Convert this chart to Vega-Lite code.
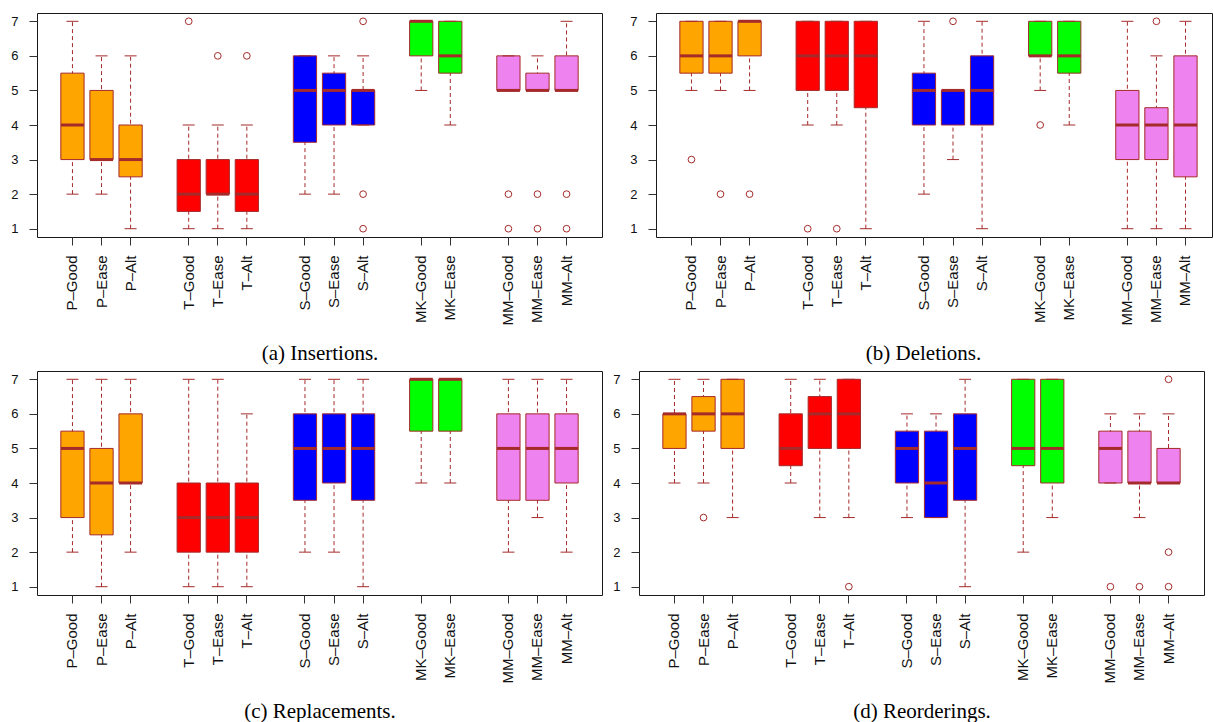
{
  "$schema": "https://vega.github.io/schema/vega-lite/v6.json",
  "padding": {"left": 10, "top": 12, "right": 2, "bottom": 0},
  "background": "white",
  "spacing": 6,
  "datasets": {
    "boxes": [
      {"panel": "a", "group": "P", "label": "P–Good", "lower": 2, "q1": 3, "median": 4, "q3": 5.5, "upper": 7},
      {"panel": "a", "group": "P", "label": "P–Ease", "lower": 2, "q1": 3, "median": 3, "q3": 5, "upper": 6},
      {"panel": "a", "group": "P", "label": "P–Alt", "lower": 1, "q1": 2.5, "median": 3, "q3": 4, "upper": 6},
      {"panel": "a", "group": "T", "label": "T–Good", "lower": 1, "q1": 1.5, "median": 2, "q3": 3, "upper": 4},
      {"panel": "a", "group": "T", "label": "T–Ease", "lower": 1, "q1": 2, "median": 2, "q3": 3, "upper": 4},
      {"panel": "a", "group": "T", "label": "T–Alt", "lower": 1, "q1": 1.5, "median": 2, "q3": 3, "upper": 4},
      {"panel": "a", "group": "S", "label": "S–Good", "lower": 2, "q1": 3.5, "median": 5, "q3": 6, "upper": 6},
      {"panel": "a", "group": "S", "label": "S–Ease", "lower": 2, "q1": 4, "median": 5, "q3": 5.5, "upper": 6},
      {"panel": "a", "group": "S", "label": "S–Alt", "lower": 4, "q1": 4, "median": 5, "q3": 5, "upper": 6},
      {"panel": "a", "group": "MK", "label": "MK–Good", "lower": 5, "q1": 6, "median": 7, "q3": 7, "upper": 7},
      {"panel": "a", "group": "MK", "label": "MK–Ease", "lower": 4, "q1": 5.5, "median": 6, "q3": 7, "upper": 7},
      {"panel": "a", "group": "MM", "label": "MM–Good", "lower": 5, "q1": 5, "median": 5, "q3": 6, "upper": 6},
      {"panel": "a", "group": "MM", "label": "MM–Ease", "lower": 5, "q1": 5, "median": 5, "q3": 5.5, "upper": 6},
      {"panel": "a", "group": "MM", "label": "MM–Alt", "lower": 5, "q1": 5, "median": 5, "q3": 6, "upper": 7},

      {"panel": "b", "group": "P", "label": "P–Good", "lower": 5, "q1": 5.5, "median": 6, "q3": 7, "upper": 7},
      {"panel": "b", "group": "P", "label": "P–Ease", "lower": 5, "q1": 5.5, "median": 6, "q3": 7, "upper": 7},
      {"panel": "b", "group": "P", "label": "P–Alt", "lower": 5, "q1": 6, "median": 7, "q3": 7, "upper": 7},
      {"panel": "b", "group": "T", "label": "T–Good", "lower": 4, "q1": 5, "median": 6, "q3": 7, "upper": 7},
      {"panel": "b", "group": "T", "label": "T–Ease", "lower": 4, "q1": 5, "median": 6, "q3": 7, "upper": 7},
      {"panel": "b", "group": "T", "label": "T–Alt", "lower": 1, "q1": 4.5, "median": 6, "q3": 7, "upper": 7},
      {"panel": "b", "group": "S", "label": "S–Good", "lower": 2, "q1": 4, "median": 5, "q3": 5.5, "upper": 7},
      {"panel": "b", "group": "S", "label": "S–Ease", "lower": 3, "q1": 4, "median": 5, "q3": 5, "upper": 5},
      {"panel": "b", "group": "S", "label": "S–Alt", "lower": 1, "q1": 4, "median": 5, "q3": 6, "upper": 7},
      {"panel": "b", "group": "MK", "label": "MK–Good", "lower": 5, "q1": 6, "median": 6, "q3": 7, "upper": 7},
      {"panel": "b", "group": "MK", "label": "MK–Ease", "lower": 4, "q1": 5.5, "median": 6, "q3": 7, "upper": 7},
      {"panel": "b", "group": "MM", "label": "MM–Good", "lower": 1, "q1": 3, "median": 4, "q3": 5, "upper": 7},
      {"panel": "b", "group": "MM", "label": "MM–Ease", "lower": 1, "q1": 3, "median": 4, "q3": 4.5, "upper": 6},
      {"panel": "b", "group": "MM", "label": "MM–Alt", "lower": 1, "q1": 2.5, "median": 4, "q3": 6, "upper": 7},

      {"panel": "c", "group": "P", "label": "P–Good", "lower": 2, "q1": 3, "median": 5, "q3": 5.5, "upper": 7},
      {"panel": "c", "group": "P", "label": "P–Ease", "lower": 1, "q1": 2.5, "median": 4, "q3": 5, "upper": 7},
      {"panel": "c", "group": "P", "label": "P–Alt", "lower": 2, "q1": 4, "median": 4, "q3": 6, "upper": 7},
      {"panel": "c", "group": "T", "label": "T–Good", "lower": 1, "q1": 2, "median": 3, "q3": 4, "upper": 7},
      {"panel": "c", "group": "T", "label": "T–Ease", "lower": 1, "q1": 2, "median": 3, "q3": 4, "upper": 7},
      {"panel": "c", "group": "T", "label": "T–Alt", "lower": 1, "q1": 2, "median": 3, "q3": 4, "upper": 6},
      {"panel": "c", "group": "S", "label": "S–Good", "lower": 2, "q1": 3.5, "median": 5, "q3": 6, "upper": 7},
      {"panel": "c", "group": "S", "label": "S–Ease", "lower": 2, "q1": 4, "median": 5, "q3": 6, "upper": 7},
      {"panel": "c", "group": "S", "label": "S–Alt", "lower": 1, "q1": 3.5, "median": 5, "q3": 6, "upper": 7},
      {"panel": "c", "group": "MK", "label": "MK–Good", "lower": 4, "q1": 5.5, "median": 7, "q3": 7, "upper": 7},
      {"panel": "c", "group": "MK", "label": "MK–Ease", "lower": 4, "q1": 5.5, "median": 7, "q3": 7, "upper": 7},
      {"panel": "c", "group": "MM", "label": "MM–Good", "lower": 2, "q1": 3.5, "median": 5, "q3": 6, "upper": 7},
      {"panel": "c", "group": "MM", "label": "MM–Ease", "lower": 3, "q1": 3.5, "median": 5, "q3": 6, "upper": 7},
      {"panel": "c", "group": "MM", "label": "MM–Alt", "lower": 2, "q1": 4, "median": 5, "q3": 6, "upper": 7},

      {"panel": "d", "group": "P", "label": "P–Good", "lower": 4, "q1": 5, "median": 6, "q3": 6, "upper": 7},
      {"panel": "d", "group": "P", "label": "P–Ease", "lower": 4, "q1": 5.5, "median": 6, "q3": 6.5, "upper": 7},
      {"panel": "d", "group": "P", "label": "P–Alt", "lower": 3, "q1": 5, "median": 6, "q3": 7, "upper": 7},
      {"panel": "d", "group": "T", "label": "T–Good", "lower": 4, "q1": 4.5, "median": 5, "q3": 6, "upper": 7},
      {"panel": "d", "group": "T", "label": "T–Ease", "lower": 3, "q1": 5, "median": 6, "q3": 6.5, "upper": 7},
      {"panel": "d", "group": "T", "label": "T–Alt", "lower": 3, "q1": 5, "median": 6, "q3": 7, "upper": 7},
      {"panel": "d", "group": "S", "label": "S–Good", "lower": 3, "q1": 4, "median": 5, "q3": 5.5, "upper": 6},
      {"panel": "d", "group": "S", "label": "S–Ease", "lower": 3, "q1": 3, "median": 4, "q3": 5.5, "upper": 6},
      {"panel": "d", "group": "S", "label": "S–Alt", "lower": 1, "q1": 3.5, "median": 5, "q3": 6, "upper": 7},
      {"panel": "d", "group": "MK", "label": "MK–Good", "lower": 2, "q1": 4.5, "median": 5, "q3": 7, "upper": 7},
      {"panel": "d", "group": "MK", "label": "MK–Ease", "lower": 3, "q1": 4, "median": 5, "q3": 7, "upper": 7},
      {"panel": "d", "group": "MM", "label": "MM–Good", "lower": 4, "q1": 4, "median": 5, "q3": 5.5, "upper": 6},
      {"panel": "d", "group": "MM", "label": "MM–Ease", "lower": 3, "q1": 4, "median": 4, "q3": 5.5, "upper": 6},
      {"panel": "d", "group": "MM", "label": "MM–Alt", "lower": 4, "q1": 4, "median": 4, "q3": 5, "upper": 6}
    ],
    "outliers": [
      {"panel": "a", "label": "T–Good", "value": 7},
      {"panel": "a", "label": "T–Ease", "value": 6},
      {"panel": "a", "label": "T–Alt", "value": 6},
      {"panel": "a", "label": "S–Alt", "value": 7},
      {"panel": "a", "label": "S–Alt", "value": 2},
      {"panel": "a", "label": "S–Alt", "value": 1},
      {"panel": "a", "label": "MM–Good", "value": 2},
      {"panel": "a", "label": "MM–Good", "value": 1},
      {"panel": "a", "label": "MM–Ease", "value": 2},
      {"panel": "a", "label": "MM–Ease", "value": 1},
      {"panel": "a", "label": "MM–Alt", "value": 2},
      {"panel": "a", "label": "MM–Alt", "value": 1},
      {"panel": "b", "label": "P–Good", "value": 3},
      {"panel": "b", "label": "P–Ease", "value": 2},
      {"panel": "b", "label": "P–Alt", "value": 2},
      {"panel": "b", "label": "T–Good", "value": 1},
      {"panel": "b", "label": "T–Ease", "value": 1},
      {"panel": "b", "label": "S–Ease", "value": 7},
      {"panel": "b", "label": "MK–Good", "value": 4},
      {"panel": "b", "label": "MM–Ease", "value": 7},
      {"panel": "d", "label": "P–Ease", "value": 3},
      {"panel": "d", "label": "T–Alt", "value": 1},
      {"panel": "d", "label": "MM–Good", "value": 1},
      {"panel": "d", "label": "MM–Ease", "value": 1},
      {"panel": "d", "label": "MM–Alt", "value": 7},
      {"panel": "d", "label": "MM–Alt", "value": 2},
      {"panel": "d", "label": "MM–Alt", "value": 1}
    ]
  },
  "config": {
    "view": {"stroke": "#1a1a1a", "strokeWidth": 1},
    "axis": {"domain": false, "grid": false, "tickColor": "#333", "tickSize": 8, "labelColor": "#111", "labelFont": "Liberation Sans"},
    "axisY": {"labelFontSize": 13, "labelPadding": 11},
    "axisX": {"labelFontSize": 15, "labelPadding": 10, "labelAngle": -90, "titleFont": "Liberation Serif", "titleFontSize": 21, "titleFontWeight": "normal", "titleColor": "#000", "titlePadding": 17}
  },
  "vconcat": [
    {
      "spacing": 26,
      "hconcat": [
        {
          "width": 565, "height": 224,
          "encoding": {
            "x": {"field": "label", "type": "nominal", "sort": null,
              "scale": {"domain": ["P–Good","P–Ease","P–Alt","_1","T–Good","T–Ease","T–Alt","_2","S–Good","S–Ease","S–Alt","_3","MK–Good","MK–Ease","_4","MM–Good","MM–Ease","MM–Alt"], "paddingInner": 0, "paddingOuter": 0.72},
              "axis": {"values": ["P–Good","P–Ease","P–Alt","T–Good","T–Ease","T–Alt","S–Good","S–Ease","S–Alt","MK–Good","MK–Ease","MM–Good","MM–Ease","MM–Alt"], "title": "(a) Insertions."}}
          },
          "layer": [
            {"data": {"name": "boxes"}, "transform": [{"filter": "datum.panel === 'a'"}],
             "mark": {"type": "rule", "strokeDash": [4, 3], "color": "#A52A2A"},
             "encoding": {"y": {"field": "lower", "type": "quantitative", "title": null, "scale": {"domain": [0.76, 7.24], "nice": false, "zero": false}, "axis": {"values": [1,2,3,4,5,6,7]}}, "y2": {"field": "upper"}}},
            {"data": {"name": "boxes"}, "transform": [{"filter": "datum.panel === 'a'"}],
             "mark": {"type": "bar", "width": {"band": 0.8}, "stroke": "#A52A2A", "strokeWidth": 1},
             "encoding": {"y": {"field": "q1", "type": "quantitative", "title": null, "axis": {"values": [1,2,3,4,5,6,7]}}, "y2": {"field": "q3"},
               "fill": {"field": "group", "type": "nominal", "legend": null, "scale": {"domain": ["P","T","S","MK","MM"], "range": ["#FFA500","#FF0000","#0000FF","#00FF00","#EE82EE"]}}}},
            {"data": {"name": "boxes"}, "transform": [{"filter": "datum.panel === 'a'"}],
             "mark": {"type": "tick", "orient": "horizontal", "size": 12, "thickness": 1, "color": "#A52A2A", "opacity": 1},
             "encoding": {"y": {"field": "lower", "type": "quantitative", "title": null, "axis": {"values": [1,2,3,4,5,6,7]}}}},
            {"data": {"name": "boxes"}, "transform": [{"filter": "datum.panel === 'a'"}],
             "mark": {"type": "tick", "orient": "horizontal", "size": 12, "thickness": 1, "color": "#A52A2A", "opacity": 1},
             "encoding": {"y": {"field": "upper", "type": "quantitative", "title": null, "axis": {"values": [1,2,3,4,5,6,7]}}}},
            {"data": {"name": "boxes"}, "transform": [{"filter": "datum.panel === 'a'"}],
             "mark": {"type": "tick", "orient": "horizontal", "size": 23, "thickness": 3, "color": "#A52A2A", "opacity": 1},
             "encoding": {"y": {"field": "median", "type": "quantitative", "title": null, "axis": {"values": [1,2,3,4,5,6,7]}}}},
            {"data": {"name": "outliers"}, "transform": [{"filter": "datum.panel === 'a'"}],
             "mark": {"type": "point", "shape": "circle", "filled": false, "size": 45, "color": "#A52A2A", "strokeWidth": 1, "opacity": 1},
             "encoding": {"y": {"field": "value", "type": "quantitative", "title": null, "axis": {"values": [1,2,3,4,5,6,7]}}}}
          ]
        },
        {
          "width": 556, "height": 224,
          "encoding": {
            "x": {"field": "label", "type": "nominal", "sort": null,
              "scale": {"domain": ["P–Good","P–Ease","P–Alt","_1","T–Good","T–Ease","T–Alt","_2","S–Good","S–Ease","S–Alt","_3","MK–Good","MK–Ease","_4","MM–Good","MM–Ease","MM–Alt"], "paddingInner": 0, "paddingOuter": 0.566, "align": 0.636},
              "axis": {"values": ["P–Good","P–Ease","P–Alt","T–Good","T–Ease","T–Alt","S–Good","S–Ease","S–Alt","MK–Good","MK–Ease","MM–Good","MM–Ease","MM–Alt"], "title": "(b) Deletions.", "titleX": 267}}
          },
          "layer": [
            {"data": {"name": "boxes"}, "transform": [{"filter": "datum.panel === 'b'"}],
             "mark": {"type": "rule", "strokeDash": [4, 3], "color": "#A52A2A"},
             "encoding": {"y": {"field": "lower", "type": "quantitative", "title": null, "scale": {"domain": [0.76, 7.24], "nice": false, "zero": false}, "axis": {"values": [1,2,3,4,5,6,7]}}, "y2": {"field": "upper"}}},
            {"data": {"name": "boxes"}, "transform": [{"filter": "datum.panel === 'b'"}],
             "mark": {"type": "bar", "width": {"band": 0.8}, "stroke": "#A52A2A", "strokeWidth": 1},
             "encoding": {"y": {"field": "q1", "type": "quantitative", "title": null, "axis": {"values": [1,2,3,4,5,6,7]}}, "y2": {"field": "q3"},
               "fill": {"field": "group", "type": "nominal", "legend": null, "scale": {"domain": ["P","T","S","MK","MM"], "range": ["#FFA500","#FF0000","#0000FF","#00FF00","#EE82EE"]}}}},
            {"data": {"name": "boxes"}, "transform": [{"filter": "datum.panel === 'b'"}],
             "mark": {"type": "tick", "orient": "horizontal", "size": 12, "thickness": 1, "color": "#A52A2A", "opacity": 1},
             "encoding": {"y": {"field": "lower", "type": "quantitative", "title": null, "axis": {"values": [1,2,3,4,5,6,7]}}}},
            {"data": {"name": "boxes"}, "transform": [{"filter": "datum.panel === 'b'"}],
             "mark": {"type": "tick", "orient": "horizontal", "size": 12, "thickness": 1, "color": "#A52A2A", "opacity": 1},
             "encoding": {"y": {"field": "upper", "type": "quantitative", "title": null, "axis": {"values": [1,2,3,4,5,6,7]}}}},
            {"data": {"name": "boxes"}, "transform": [{"filter": "datum.panel === 'b'"}],
             "mark": {"type": "tick", "orient": "horizontal", "size": 23, "thickness": 3, "color": "#A52A2A", "opacity": 1},
             "encoding": {"y": {"field": "median", "type": "quantitative", "title": null, "axis": {"values": [1,2,3,4,5,6,7]}}}},
            {"data": {"name": "outliers"}, "transform": [{"filter": "datum.panel === 'b'"}],
             "mark": {"type": "point", "shape": "circle", "filled": false, "size": 45, "color": "#A52A2A", "strokeWidth": 1, "opacity": 1},
             "encoding": {"y": {"field": "value", "type": "quantitative", "title": null, "axis": {"values": [1,2,3,4,5,6,7]}}}}
          ]
        }
      ]
    },
    {
      "spacing": 9,
      "hconcat": [
        {
          "width": 565, "height": 224,
          "encoding": {
            "x": {"field": "label", "type": "nominal", "sort": null,
              "scale": {"domain": ["P–Good","P–Ease","P–Alt","_1","T–Good","T–Ease","T–Alt","_2","S–Good","S–Ease","S–Alt","_3","MK–Good","MK–Ease","_4","MM–Good","MM–Ease","MM–Alt"], "paddingInner": 0, "paddingOuter": 0.72},
              "axis": {"values": ["P–Good","P–Ease","P–Alt","T–Good","T–Ease","T–Alt","S–Good","S–Ease","S–Alt","MK–Good","MK–Ease","MM–Good","MM–Ease","MM–Alt"], "title": "(c) Replacements."}}
          },
          "layer": [
            {"data": {"name": "boxes"}, "transform": [{"filter": "datum.panel === 'c'"}],
             "mark": {"type": "rule", "strokeDash": [4, 3], "color": "#A52A2A"},
             "encoding": {"y": {"field": "lower", "type": "quantitative", "title": null, "scale": {"domain": [0.76, 7.24], "nice": false, "zero": false}, "axis": {"values": [1,2,3,4,5,6,7]}}, "y2": {"field": "upper"}}},
            {"data": {"name": "boxes"}, "transform": [{"filter": "datum.panel === 'c'"}],
             "mark": {"type": "bar", "width": {"band": 0.8}, "stroke": "#A52A2A", "strokeWidth": 1},
             "encoding": {"y": {"field": "q1", "type": "quantitative", "title": null, "axis": {"values": [1,2,3,4,5,6,7]}}, "y2": {"field": "q3"},
               "fill": {"field": "group", "type": "nominal", "legend": null, "scale": {"domain": ["P","T","S","MK","MM"], "range": ["#FFA500","#FF0000","#0000FF","#00FF00","#EE82EE"]}}}},
            {"data": {"name": "boxes"}, "transform": [{"filter": "datum.panel === 'c'"}],
             "mark": {"type": "tick", "orient": "horizontal", "size": 12, "thickness": 1, "color": "#A52A2A", "opacity": 1},
             "encoding": {"y": {"field": "lower", "type": "quantitative", "title": null, "axis": {"values": [1,2,3,4,5,6,7]}}}},
            {"data": {"name": "boxes"}, "transform": [{"filter": "datum.panel === 'c'"}],
             "mark": {"type": "tick", "orient": "horizontal", "size": 12, "thickness": 1, "color": "#A52A2A", "opacity": 1},
             "encoding": {"y": {"field": "upper", "type": "quantitative", "title": null, "axis": {"values": [1,2,3,4,5,6,7]}}}},
            {"data": {"name": "boxes"}, "transform": [{"filter": "datum.panel === 'c'"}],
             "mark": {"type": "tick", "orient": "horizontal", "size": 23, "thickness": 3, "color": "#A52A2A", "opacity": 1},
             "encoding": {"y": {"field": "median", "type": "quantitative", "title": null, "axis": {"values": [1,2,3,4,5,6,7]}}}}
          ]
        },
        {
          "width": 565, "height": 224,
          "encoding": {
            "x": {"field": "label", "type": "nominal", "sort": null,
              "scale": {"domain": ["P–Good","P–Ease","P–Alt","_1","T–Good","T–Ease","T–Alt","_2","S–Good","S–Ease","S–Alt","_3","MK–Good","MK–Ease","_4","MM–Good","MM–Ease","MM–Alt"], "paddingInner": 0, "paddingOuter": 0.72},
              "axis": {"values": ["P–Good","P–Ease","P–Alt","T–Good","T–Ease","T–Alt","S–Good","S–Ease","S–Alt","MK–Good","MK–Ease","MM–Good","MM–Ease","MM–Alt"], "title": "(d) Reorderings."}}
          },
          "layer": [
            {"data": {"name": "boxes"}, "transform": [{"filter": "datum.panel === 'd'"}],
             "mark": {"type": "rule", "strokeDash": [4, 3], "color": "#A52A2A"},
             "encoding": {"y": {"field": "lower", "type": "quantitative", "title": null, "scale": {"domain": [0.76, 7.24], "nice": false, "zero": false}, "axis": {"values": [1,2,3,4,5,6,7]}}, "y2": {"field": "upper"}}},
            {"data": {"name": "boxes"}, "transform": [{"filter": "datum.panel === 'd'"}],
             "mark": {"type": "bar", "width": {"band": 0.8}, "stroke": "#A52A2A", "strokeWidth": 1},
             "encoding": {"y": {"field": "q1", "type": "quantitative", "title": null, "axis": {"values": [1,2,3,4,5,6,7]}}, "y2": {"field": "q3"},
               "fill": {"field": "group", "type": "nominal", "legend": null, "scale": {"domain": ["P","T","S","MK","MM"], "range": ["#FFA500","#FF0000","#0000FF","#00FF00","#EE82EE"]}}}},
            {"data": {"name": "boxes"}, "transform": [{"filter": "datum.panel === 'd'"}],
             "mark": {"type": "tick", "orient": "horizontal", "size": 12, "thickness": 1, "color": "#A52A2A", "opacity": 1},
             "encoding": {"y": {"field": "lower", "type": "quantitative", "title": null, "axis": {"values": [1,2,3,4,5,6,7]}}}},
            {"data": {"name": "boxes"}, "transform": [{"filter": "datum.panel === 'd'"}],
             "mark": {"type": "tick", "orient": "horizontal", "size": 12, "thickness": 1, "color": "#A52A2A", "opacity": 1},
             "encoding": {"y": {"field": "upper", "type": "quantitative", "title": null, "axis": {"values": [1,2,3,4,5,6,7]}}}},
            {"data": {"name": "boxes"}, "transform": [{"filter": "datum.panel === 'd'"}],
             "mark": {"type": "tick", "orient": "horizontal", "size": 23, "thickness": 3, "color": "#A52A2A", "opacity": 1},
             "encoding": {"y": {"field": "median", "type": "quantitative", "title": null, "axis": {"values": [1,2,3,4,5,6,7]}}}},
            {"data": {"name": "outliers"}, "transform": [{"filter": "datum.panel === 'd'"}],
             "mark": {"type": "point", "shape": "circle", "filled": false, "size": 45, "color": "#A52A2A", "strokeWidth": 1, "opacity": 1},
             "encoding": {"y": {"field": "value", "type": "quantitative", "title": null, "axis": {"values": [1,2,3,4,5,6,7]}}}}
          ]
        }
      ]
    }
  ]
}
